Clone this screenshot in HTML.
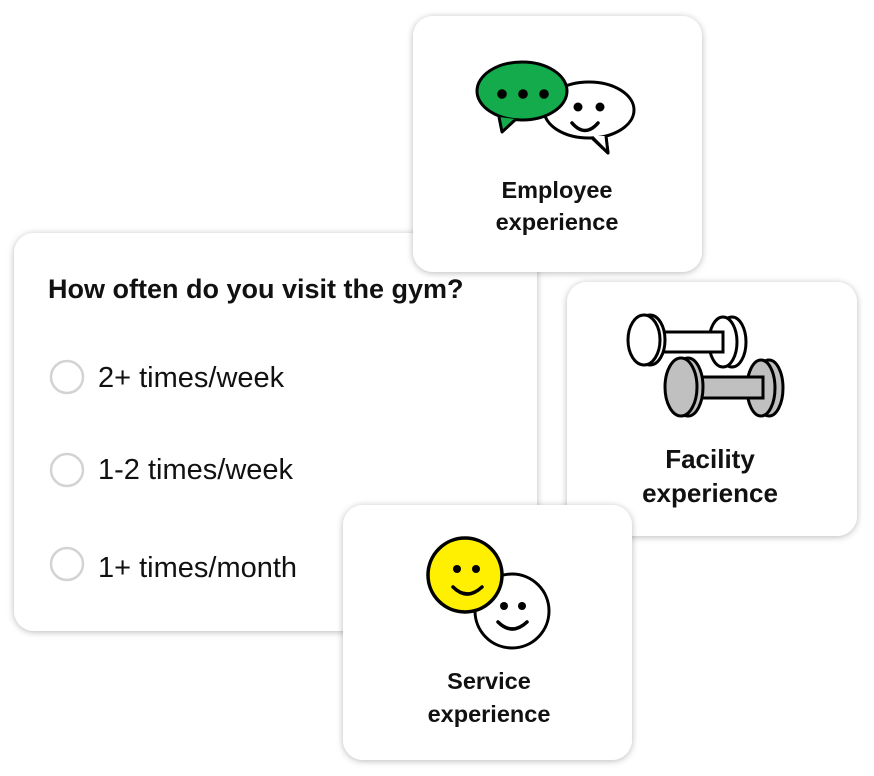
<!DOCTYPE html>
<html>
<head>
<meta charset="utf-8">
<style>
  html, body { margin: 0; padding: 0; background: #ffffff; }
  body { width: 874px; height: 776px; overflow: hidden; }
  svg { display: block; }
  text { font-family: "Liberation Sans", Arial, sans-serif; fill: #111; }
  .t { font-weight: bold; font-size: 23.5px; text-anchor: middle; }
  .tf { font-weight: bold; font-size: 26px; text-anchor: middle; }
  .opt { font-size: 29px; }
</style>
</head>
<body>
<svg width="874" height="776" viewBox="0 0 874 776" xmlns="http://www.w3.org/2000/svg">
  <defs>
    <filter id="sh" x="-10%" y="-10%" width="120%" height="120%">
      <feDropShadow dx="0" dy="1" stdDeviation="3.5" flood-color="#000" flood-opacity="0.28"/>
    </filter>
  </defs>

  <!-- Survey card -->
  <rect x="14" y="233" width="523" height="398" rx="20" ry="20" fill="#fff" filter="url(#sh)"/>
  <text x="48" y="298" style="font-weight:bold;font-size:27px">How often do you visit the gym?</text>
  <circle cx="67" cy="377" r="16" fill="#fff" stroke="#d3d3d3" stroke-width="2.5"/>
  <text class="opt" x="98" y="387">2+ times/week</text>
  <circle cx="67" cy="470" r="16" fill="#fff" stroke="#d3d3d3" stroke-width="2.5"/>
  <text class="opt" x="98" y="479">1-2 times/week</text>
  <circle cx="67" cy="564" r="16" fill="#fff" stroke="#d3d3d3" stroke-width="2.5"/>
  <text class="opt" x="98" y="577">1+ times/month</text>

  <!-- Employee card -->
  <rect x="413" y="16" width="289" height="256" rx="20" ry="20" fill="#fff" filter="url(#sh)"/>
  <!-- white bubble -->
  <g stroke="#000" stroke-width="3" stroke-linejoin="round">
    <path d="M592,138 L608,153 L606,137" fill="#fff"/>
    <ellipse cx="589" cy="110" rx="45" ry="28" fill="#fff"/>
    <path d="M593,136 L608,152 L606,136 Z" fill="#fff" stroke="none"/>
    <path d="M592,137 L608,153 L606,136" fill="none"/>
  </g>
  <circle cx="578" cy="107" r="4.5" fill="#000"/>
  <circle cx="600" cy="107" r="4.5" fill="#000"/>
  <path d="M572,123 Q585,138 598,123" fill="none" stroke="#000" stroke-width="3.5" stroke-linecap="round"/>
  <!-- green bubble -->
  <g stroke="#000" stroke-width="3" stroke-linejoin="round">
    <ellipse cx="522" cy="91" rx="45" ry="29" fill="#14ab4c"/>
    <path d="M499,117 L502,132 L515,119 Z" fill="#14ab4c" stroke="none"/>
    <path d="M499,117 L502,132 L515,120" fill="none"/>
  </g>
  <circle cx="502" cy="94" r="4.8" fill="#000"/>
  <circle cx="523" cy="94" r="4.8" fill="#000"/>
  <circle cx="544" cy="94" r="4.8" fill="#000"/>
  <text class="t" x="557" y="198">Employee</text>
  <text class="t" x="557" y="230">experience</text>

  <!-- Facility card -->
  <rect x="567" y="282" width="290" height="254" rx="20" ry="20" fill="#fff" filter="url(#sh)"/>
  <g stroke="#000" stroke-width="3">
    <!-- top dumbbell (white) -->
    <ellipse cx="732" cy="342" rx="14" ry="25" fill="#fff"/>
    <ellipse cx="723" cy="342" rx="14" ry="25" fill="#fff"/>
    <rect x="656" y="332" width="67" height="20" fill="#fff"/>
    <ellipse cx="650" cy="340" rx="15" ry="25" fill="#fff"/>
    <ellipse cx="644" cy="340" rx="16" ry="25" fill="#fff"/>
    <!-- bottom dumbbell (gray) -->
    <ellipse cx="769" cy="388" rx="14" ry="28" fill="#c0c0c0"/>
    <ellipse cx="761" cy="388" rx="14" ry="28" fill="#c0c0c0"/>
    <rect x="698" y="377" width="65" height="21" fill="#c0c0c0"/>
    <ellipse cx="688" cy="387" rx="15" ry="29" fill="#c0c0c0"/>
    <ellipse cx="681" cy="387" rx="16" ry="29" fill="#c0c0c0"/>
  </g>
  <text class="tf" x="710" y="468">Facility</text>
  <text class="tf" x="710" y="502">experience</text>

  <!-- Service card -->
  <rect x="343" y="505" width="289" height="255" rx="20" ry="20" fill="#fff" filter="url(#sh)"/>
  <!-- white face -->
  <circle cx="512" cy="611" r="37" fill="#fff" stroke="#000" stroke-width="3"/>
  <circle cx="504" cy="606" r="4" fill="#000"/>
  <circle cx="522" cy="606" r="4" fill="#000"/>
  <path d="M498,622 Q512,636 527,622" fill="none" stroke="#000" stroke-width="3.5" stroke-linecap="round"/>
  <!-- yellow face -->
  <circle cx="465" cy="575" r="37" fill="#ffef00" stroke="#000" stroke-width="3.5"/>
  <circle cx="457" cy="569" r="4" fill="#000"/>
  <circle cx="476" cy="569" r="4" fill="#000"/>
  <path d="M453,587 Q467,601 482,587" fill="none" stroke="#000" stroke-width="3.5" stroke-linecap="round"/>
  <text class="t" x="489" y="689">Service</text>
  <text class="t" x="489" y="722">experience</text>
</svg>
</body>
</html>
